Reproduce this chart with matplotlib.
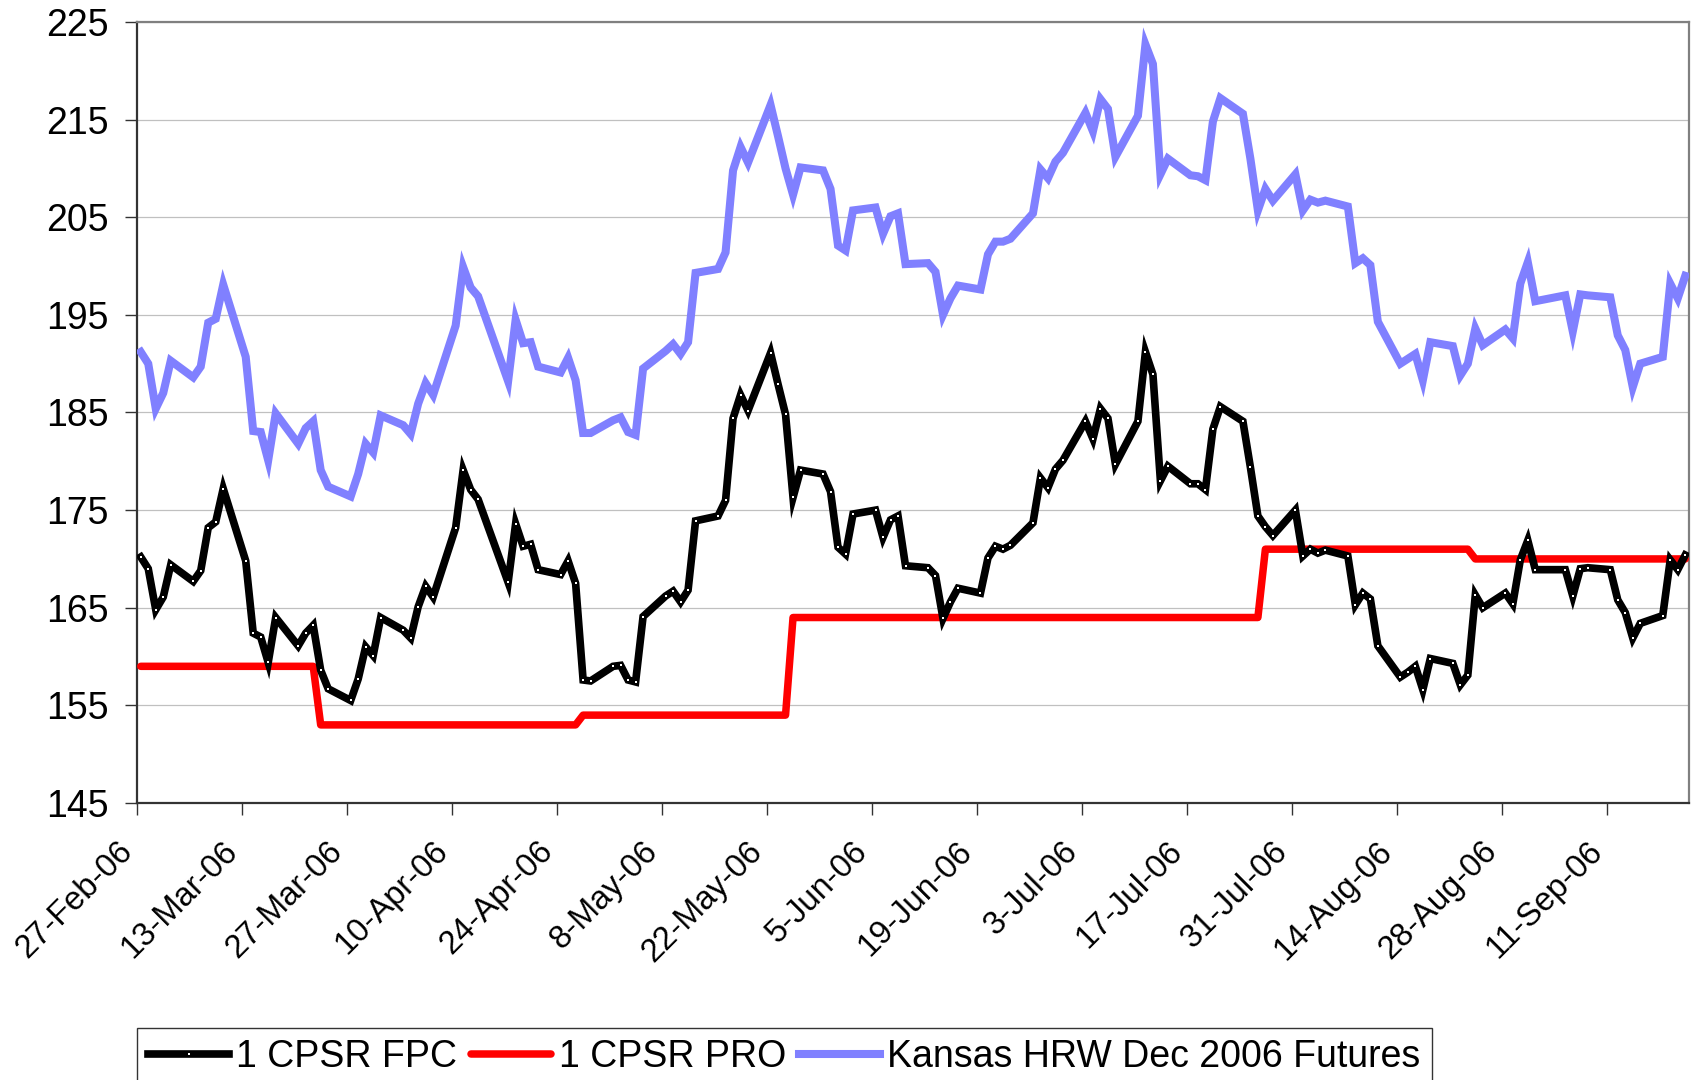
import pandas as pd
import matplotlib
matplotlib.use('Agg')
import matplotlib.pyplot as plt
import matplotlib.dates as mdates
from matplotlib.transforms import ScaledTranslation

plt.rcParams['font.family'] = ['Liberation Sans', 'DejaVu Sans']

# Trading days shown on the chart (Good Friday and Labor Day are missing)
dates = pd.bdate_range('2006-02-27', '2006-09-21')
dates = dates.drop(pd.to_datetime(['2006-04-14', '2006-09-04']))

# 1 CPSR FPC, one value per trading day
fpc = [170.2, 169.0, 164.8, 166.1, 169.4,
       167.7, 168.8, 173.2, 173.8, 177.2,
       169.8, 162.4, 162.0, 159.4, 164.0,
       161.1, 162.4, 163.2, 158.6, 156.7,
       155.5, 157.7, 161.0, 160.1, 164.0,
       162.7, 161.9, 165.1, 167.2, 166.1,
       173.2, 179.1, 177.1, 176.1,
       167.6, 173.6, 171.3, 171.5, 168.9,
       168.4, 169.8, 167.5, 157.6, 157.5,
       159.0, 159.1, 157.6, 157.4, 164.1,
       166.2, 166.7, 165.6, 166.8, 173.9,
       174.4, 176.0, 184.4, 186.8, 185.2,
       191.1, 187.9, 184.8, 176.3, 179.1,
       178.7, 176.9, 171.2, 170.5, 174.6,
       175.0, 172.2, 174.0, 174.4, 169.3,
       169.1, 168.3, 163.9, 165.6, 167.0,
       166.5, 170.1, 171.3, 171.0, 171.4,
       173.7, 178.3, 177.3, 179.2, 180.1,
       184.1, 182.3, 185.4, 184.4, 179.7,
       184.1, 191.2, 188.9, 178.0, 179.5,
       177.7, 177.7, 177.1, 183.3, 185.6,
       184.1, 179.4, 174.4, 173.3, 172.4,
       175.0, 170.3, 171.0, 170.6, 170.9,
       170.3, 165.3, 166.5, 165.9, 161.1,
       157.9, 158.4, 159.0, 156.6, 159.8,
       159.3, 157.1, 158.1, 166.3, 165.0,
       166.5, 165.4, 169.9, 171.9, 168.9,
       168.9, 166.2, 169.0, 169.1,
       168.9, 165.8, 164.5, 161.9, 163.4,
       164.2, 169.9, 168.9, 170.4]

# Kansas HRW Dec 2006 Futures
hrw = [191.2, 190.0, 185.4, 187.0, 190.3,
       188.6, 189.7, 194.2, 194.6, 198.1,
       190.7, 183.1, 183.0, 180.1, 184.9,
       181.8, 183.4, 184.1, 179.1, 177.4,
       176.4, 178.7, 181.8, 180.9, 184.7,
       183.7, 182.8, 185.9, 188.0, 186.8,
       193.9, 199.9, 197.8, 196.9,
       188.2, 194.5, 192.1, 192.2, 189.7,
       189.1, 190.6, 188.3, 182.9, 182.9,
       184.2, 184.5, 183.0, 182.7, 189.5,
       191.3, 192.0, 191.0, 192.2, 199.3,
       199.7, 201.4, 209.8, 212.2, 210.6,
       216.5, 213.3, 210.0, 207.3, 210.1,
       209.8, 207.9, 202.1, 201.6, 205.7,
       206.0, 203.3, 205.1, 205.4, 200.2,
       200.3, 199.4, 195.0, 196.7, 198.0,
       197.6, 201.2, 202.5, 202.5, 202.8,
       205.4, 209.9, 209.0, 210.7, 211.6,
       215.7, 213.8, 217.1, 216.1, 211.2,
       215.4, 222.7, 220.7, 209.4, 211.0,
       209.3, 209.2, 208.8, 214.8, 217.2,
       215.6, 211.0, 205.7, 207.9, 206.7,
       209.4, 205.7, 206.8, 206.5, 206.7,
       206.1, 200.3, 200.8, 200.1, 194.3,
       190.0, 190.5, 191.0, 188.3, 192.2,
       191.8, 188.8, 190.0, 193.6, 191.9,
       193.5, 192.6, 198.2, 200.4, 196.4,
       197.0, 193.3, 197.1, 197.0,
       196.8, 192.9, 191.4, 187.6, 190.0,
       190.7, 198.2, 196.7, 199.0]

# 1 CPSR PRO only changes a few times, so keep the days around each step
pro_dates = pd.to_datetime(['2006-02-27', '2006-03-22', '2006-03-23', '2006-04-26',
                            '2006-04-27', '2006-05-24', '2006-05-25', '2006-07-26',
                            '2006-07-27', '2006-08-23', '2006-08-24', '2006-09-21'])
pro = [159, 159, 153, 153, 154, 154, 164, 164, 171, 171, 170, 170]

# Excel puts each point in the middle of its day
half_day = pd.Timedelta(hours=12)

fig = plt.figure(figsize=(16.94, 10.80), dpi=100)
ax = fig.add_axes([137 / 1694, 1 - 803 / 1080, 1552 / 1694, 781 / 1080])

ax.plot(pro_dates + half_day, pro, color='#FF0000', lw=5.4, solid_capstyle='round',
        solid_joinstyle='round', label='1 CPSR PRO', zorder=3)
ax.plot(dates + half_day, hrw, color='#8080FF', lw=5.8, solid_joinstyle='miter',
        label='Kansas HRW Dec 2006 Futures', zorder=3)
ax.plot(dates + half_day, fpc, color='black', lw=5.5, marker='s', ms=2.1,
        mfc='white', mec='white', mew=0, solid_joinstyle='miter',
        label='1 CPSR FPC', zorder=4)

ax.set_xlim(dates[0], dates[-1] + pd.Timedelta(days=1))
ax.set_ylim(145, 225)
ax.set_yticks(range(145, 226, 10))

tick_dates = pd.date_range('2006-02-27', '2006-09-21', freq='14D')
ax.set_xticks(mdates.date2num(tick_dates))
ax.set_xticklabels([f'{d.day}-{d:%b-%y}' for d in tick_dates], rotation=45,
                   ha='right', va='top', rotation_mode='anchor')

ax.grid(axis='y', color='#C0C0C0', lw=0.9)
ax.set_axisbelow(True)
ax.tick_params(axis='both', labelsize=27, direction='out', length=8.5, width=1,
               color='#333333')
ax.tick_params(axis='x', labelsize=23.5, pad=15)
ax.tick_params(axis='y', pad=12)

# nudge the slanted date labels left so they end just before their tick
shift = ScaledTranslation(-0.2, 0, fig.dpi_scale_trans)
for lbl in ax.get_xticklabels():
    lbl.set_transform(lbl.get_transform() + shift)

for side in ['left', 'bottom']:
    ax.spines[side].set_color('#333333')
    ax.spines[side].set_linewidth(1.6)
for side in ['top', 'right']:
    ax.spines[side].set_color('#808080')
    ax.spines[side].set_linewidth(1.6)

handles, labels = ax.get_legend_handles_labels()
order = [2, 0, 1]
leg = fig.legend([handles[i] for i in order], [labels[i] for i in order],
                 loc='upper left', bbox_to_anchor=(137 / 1694, 1 - 1028 / 1080),
                 ncol=3, fontsize=27, frameon=True, fancybox=False,
                 edgecolor='black', handlelength=2.15, handletextpad=0.2,
                 columnspacing=0.35, borderpad=0.3, borderaxespad=0)
leg.get_frame().set_linewidth(1.0)

fig.savefig('out.png', dpi=100)
